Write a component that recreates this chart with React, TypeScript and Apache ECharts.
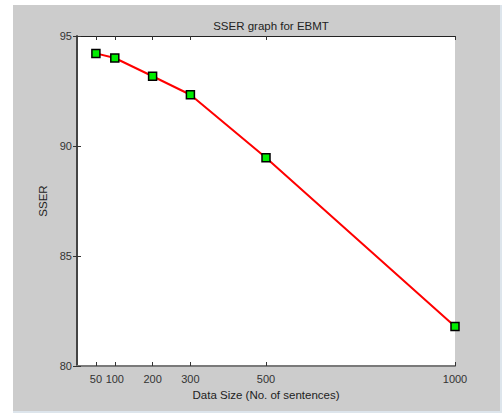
import React, { useEffect, useRef } from "react";
import * as echarts from "echarts";

const dataSizes = [50, 100, 200, 300, 500, 1000];
const sserValues = [94.21, 94.0, 93.17, 92.33, 89.47, 81.79];
const yTickValues = [80, 85, 90, 95];
const titleText = "SSER graph for EBMT";
const xAxisName = "Data Size (No. of sentences)";
const yAxisName = "SSER";

const FONT = "'Liberation Sans', Arial, sans-serif";

export default function App() {
  const ref = useRef<HTMLDivElement>(null);
  useEffect(() => {
    if (!ref.current) return;
    const chart = echarts.init(ref.current, undefined, { renderer: "svg" });
    const tickStyle = { color: "#333", fontSize: 11, fontFamily: FONT, formatter: (v: number) => String(v) };
    chart.setOption({
      animation: false,
      backgroundColor: "#ffffff",
      graphic: [
        { type: "rect", z: -10, shape: { x: 13, y: 5, width: 487, height: 406 }, style: { fill: "#cccccc" } },
        { type: "rect", z: -10, shape: { x: 500, y: 5, width: 2, height: 408 }, style: { fill: "#dde5ec" } },
        { type: "rect", z: -10, shape: { x: 13, y: 411, width: 489, height: 2 }, style: { fill: "#dde5ec" } },
        { type: "rect", z: -5, shape: { x: 77, y: 36, width: 378, height: 330 }, style: { fill: "#ffffff" } },
      ],
      title: {
        text: titleText,
        left: 266,
        top: 15,
        textAlign: "center",
        textStyle: { fontSize: 11.5, fontWeight: "normal", color: "#222", fontFamily: FONT },
      },
      grid: { left: 77, top: 36, width: 378, height: 330, show: false },
      xAxis: [
        {
          type: "value",
          min: 0,
          max: 1000,
          position: "bottom",
          name: xAxisName,
          nameLocation: "middle",
          nameGap: 23,
          nameTextStyle: { fontSize: 11.5, color: "#222", fontFamily: FONT },
          axisLine: { show: true, lineStyle: { color: "#7a7a7a", width: 2 } },
          axisTick: { show: true, inside: true, length: 4, customValues: dataSizes, lineStyle: { color: "#333" } },
          axisLabel: { ...tickStyle, margin: 7, customValues: dataSizes },
          splitLine: { show: false },
        },
        {
          type: "value",
          min: 0,
          max: 1000,
          position: "top",
          axisLine: { show: true, lineStyle: { color: "#222", width: 1 } },
          axisTick: { show: true, inside: true, length: 4, customValues: dataSizes, lineStyle: { color: "#333" } },
          axisLabel: { show: false },
          splitLine: { show: false },
        },
      ],
      yAxis: [
        {
          type: "value",
          min: 80,
          max: 95,
          interval: 5,
          position: "left",
          name: yAxisName,
          nameLocation: "middle",
          nameGap: 26,
          nameRotate: 90,
          nameTextStyle: { fontSize: 11.5, color: "#222", fontFamily: FONT },
          axisLine: { show: true, lineStyle: { color: "#7a7a7a", width: 2 } },
          axisTick: { show: true, inside: true, length: 4, customValues: yTickValues, lineStyle: { color: "#333" } },
          axisLabel: { ...tickStyle, margin: 5, customValues: yTickValues },
          splitLine: { show: false },
        },
        {
          type: "value",
          min: 80,
          max: 95,
          interval: 5,
          position: "right",
          axisLine: { show: true, lineStyle: { color: "#333", width: 1.5 } },
          axisTick: { show: true, inside: true, length: 4, lineStyle: { color: "#333" } },
          axisLabel: { show: false },
          splitLine: { show: false },
        },
      ],
      series: [
        {
          type: "line",
          data: dataSizes.map((x, i) => [x, sserValues[i]]),
          xAxisIndex: 0,
          yAxisIndex: 0,
          lineStyle: { color: "#ff0000", width: 2 },
          symbol: "rect",
          symbolSize: 8,
          itemStyle: { color: "#00ee00", borderColor: "#000000", borderWidth: 1.5 },
          z: 5,
        },
      ],
    });
    return () => chart.dispose();
  }, []);
  return (
    <div
      ref={ref}
      style={{ position: "absolute", left: 0, top: 0, width: 502, height: 413 }}
    />
  );
}
